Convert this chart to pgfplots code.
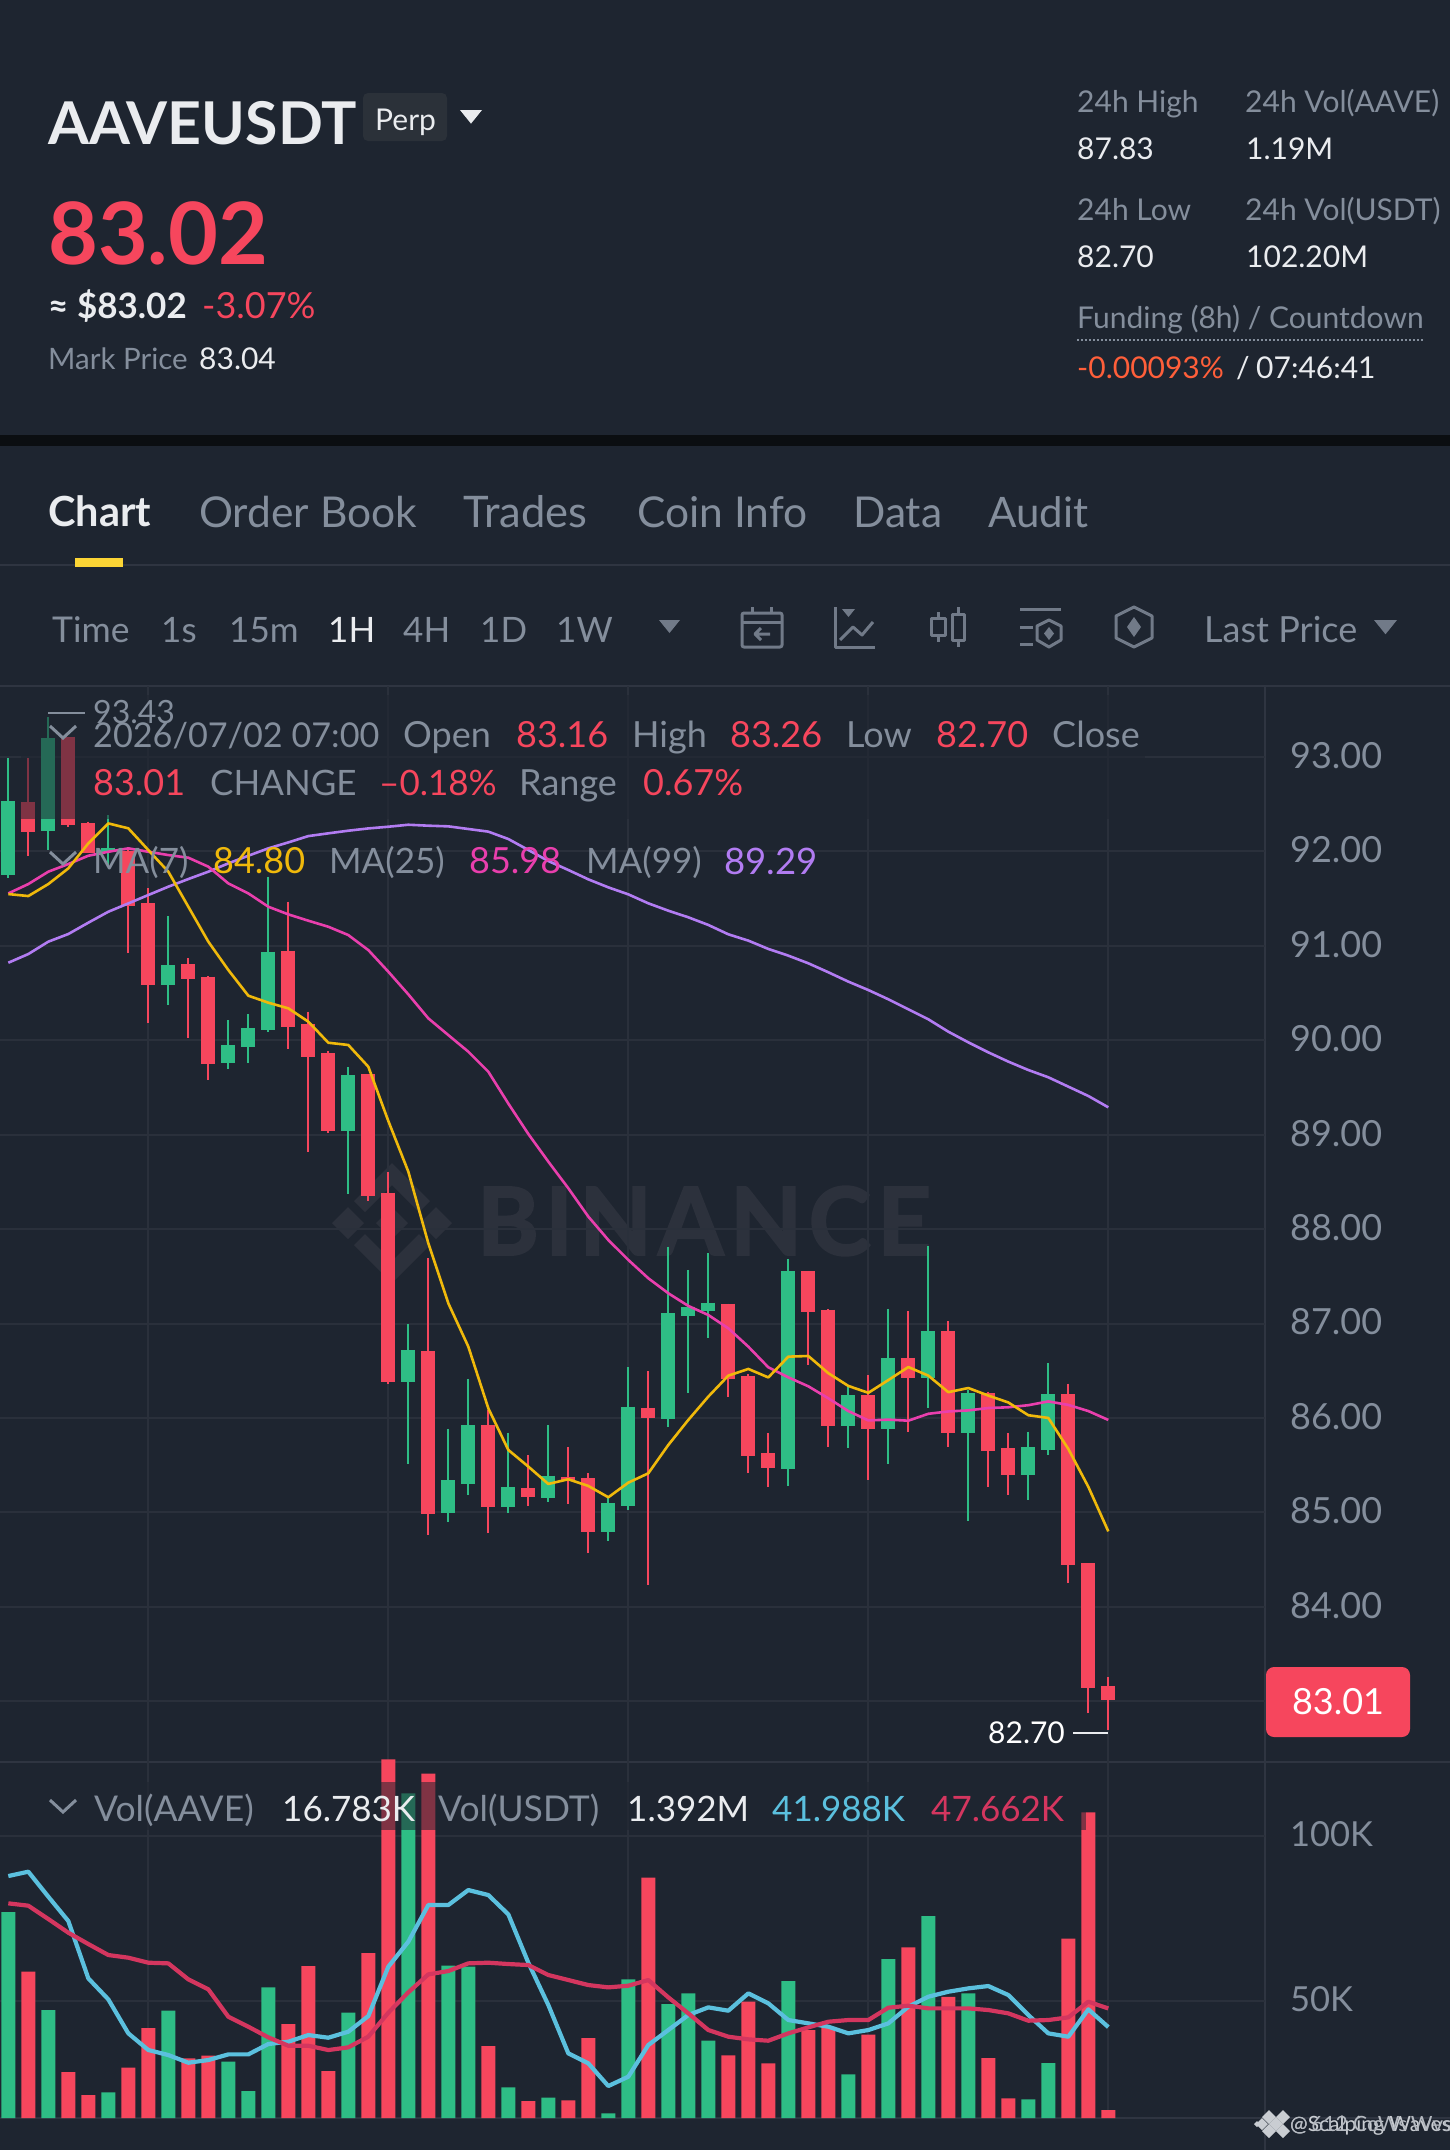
\documentclass[border=0pt]{standalone}
\usepackage{pgfplots}
\usepackage{pgfplotstable}
\usepackage{fontspec}
\setmainfont{Lato}
\pgfplotsset{compat=1.18}
\definecolor{bg}{HTML}{1E2530}
\definecolor{grid}{HTML}{2A303B}
\definecolor{sep}{HTML}{2F3541}
\definecolor{up}{HTML}{2EBD85}
\definecolor{dn}{HTML}{F6465D}
\definecolor{gr}{HTML}{848E9C}
\definecolor{wt}{HTML}{EAECEF}
\definecolor{maa}{HTML}{F0B90B}
\definecolor{mab}{HTML}{E93FAD}
\definecolor{mac}{HTML}{B27CF2}
\definecolor{vb}{HTML}{5BC0DE}
\definecolor{vr}{HTML}{D4365F}
\definecolor{wm}{HTML}{2C313C}
\definecolor{ic}{HTML}{717A88}
\definecolor{yel}{HTML}{FCD535}
\definecolor{chip}{HTML}{2B3139}
\definecolor{fund}{HTML}{FF5F3A}
\definecolor{wml}{HTML}{C9CDD2}
\definecolor{wmd}{HTML}{B4B9C0}
\definecolor{band}{HTML}{0B0E11}
% i high bodytop bodybottom low
\pgfplotstableread{
i hi top bot lo
0 92.985 92.536 91.749 91.714
2 93.426 93.196 92.219 92.014
5 92.385 92.039 91.996 91.855
8 91.315 90.796 90.581 90.373
11 90.214 89.950 89.755 89.695
12 90.274 90.130 89.932 89.755
13 91.732 90.938 90.108 90.091
17 89.713 89.628 89.039 88.370
20 86.996 86.721 86.379 85.514
22 85.885 85.341 84.992 84.903
23 86.414 85.923 85.299 85.186
25 85.846 85.270 85.059 84.999
27 85.923 85.390 85.150 85.115
30 85.150 85.101 84.797 84.702
31 86.537 86.121 85.069 85.027
33 87.815 87.109 85.990 85.906
34 87.568 87.180 87.081 86.262
35 87.744 87.222 87.130 86.851
39 87.685 87.557 85.465 85.279
42 86.329 86.241 85.921 85.687
44 87.156 86.639 85.880 85.516
46 87.824 86.923 86.427 86.107
48 86.292 86.263 85.840 84.907
51 85.855 85.691 85.392 85.137
52 86.584 86.252 85.658 85.607
}\upt
\pgfplotstableread{
i hi top bot lo
1 92.985 92.526 92.208 91.954
3 93.214 93.214 92.279 92.261
4 92.314 92.296 91.986 91.979
6 92.030 92.007 91.421 90.927
7 91.608 91.449 90.581 90.186
9 90.867 90.807 90.652 90.027
10 90.680 90.673 89.748 89.579
14 91.467 90.948 90.140 89.904
15 90.302 90.168 89.819 88.813
16 89.886 89.861 89.039 89.014
18 89.640 89.640 88.351 88.300
19 88.609 88.387 86.379 86.357
21 87.691 86.710 84.981 84.762
24 86.086 85.930 85.059 84.787
26 85.606 85.260 85.161 85.073
28 85.694 85.380 85.345 85.094
29 85.415 85.362 84.797 84.575
32 86.495 86.110 86.001 84.236
36 87.211 87.211 86.410 86.223
37 86.467 86.449 85.602 85.415
38 85.844 85.625 85.472 85.272
40 87.557 87.557 87.120 86.566
41 87.153 87.149 85.921 85.698
43 86.457 86.241 85.880 85.348
45 87.135 86.639 86.420 85.855
47 87.025 86.923 85.840 85.698
49 86.281 86.263 85.647 85.268
50 85.837 85.680 85.399 85.180
53 86.365 86.252 84.440 84.258
54 84.462 84.462 83.139 82.873
55 83.260 83.160 83.010 82.700
}\dnt
\pgfplotstableread{
i ma7 ma25 ma99
0 91.548 91.555 90.821
1 91.527 91.654 90.913
2 91.654 91.785 91.044
3 91.820 91.866 91.125
4 92.085 91.954 91.245
5 92.296 91.996 91.361
6 92.244 92.032 91.449
7 92.014 91.996 91.538
8 91.785 91.961 91.626
9 91.414 91.933 91.707
10 91.044 91.838 91.785
11 90.744 91.661 91.873
12 90.472 91.555 91.954
13 90.398 91.414 92.032
14 90.338 91.333 92.095
15 90.197 91.266 92.162
16 89.974 91.202 92.191
17 89.950 91.114 92.219
18 89.720 90.955 92.243
19 89.145 90.726 92.261
20 88.609 90.486 92.282
21 87.850 90.232 92.272
22 87.215 90.055 92.265
23 86.756 89.879 92.237
24 86.103 89.667 92.209
25 85.662 89.330 92.131
26 85.486 89.008 92.015
27 85.302 88.715 91.898
28 85.352 88.433 91.803
29 85.281 88.133 91.704
30 85.161 87.885 91.619
31 85.316 87.674 91.545
32 85.415 87.480 91.450
33 85.715 87.321 91.372
34 85.980 87.187 91.302
35 86.227 87.091 91.221
36 86.449 86.950 91.122
37 86.520 86.756 91.055
38 86.430 86.537 90.967
39 86.650 86.431 90.896
40 86.657 86.336 90.815
41 86.475 86.209 90.720
42 86.340 86.074 90.621
43 86.267 85.975 90.532
44 86.402 85.983 90.434
45 86.540 85.972 90.328
46 86.449 86.045 90.222
47 86.274 86.070 90.091
48 86.318 86.081 89.978
49 86.238 86.106 89.872
50 86.165 86.114 89.774
51 86.030 86.136 89.685
52 86.001 86.176 89.608
53 85.673 86.139 89.509
54 85.272 86.074 89.410
55 84.800 85.980 89.290
}\mat
\pgfplotstableread{
i v
0 76.93
2 47.18
5 22.18
8 46.97
11 31.49
12 22.59
13 54.06
17 46.37
20 112.95
22 60.63
23 60.33
25 23.70
27 20.56
30 15.81
31 56.49
33 49.00
34 52.24
35 37.87
39 55.98
42 27.65
44 62.66
46 75.71
48 52.24
51 20.06
52 31.09
}\vup
\pgfplotstableread{
i v
1 58.81
3 28.35
4 21.37
6 29.67
7 41.71
9 32.50
10 33.31
14 42.93
15 60.53
16 28.66
18 64.48
19 123.27
21 118.92
24 36.25
26 19.55
28 19.75
29 38.68
32 87.35
36 33.41
37 49.70
38 30.98
40 41.10
41 42.10
43 39.69
45 66.20
47 51.20
49 32.60
50 20.36
53 68.83
54 107.18
55 16.78
}\vdn
\pgfplotstableread{
i b r
0 87.85 79.56
1 89.17 78.85
2 81.58 74.80
3 74.19 70.65
4 56.79 67.21
5 50.41 63.87
6 40.09 63.06
7 35.03 61.54
8 33.51 61.34
9 31.18 56.48
10 31.99 53.45
11 33.71 45.15
12 33.71 42.11
13 36.85 38.88
14 37.56 36.34
15 39.58 36.34
16 38.77 35.03
17 40.60 35.84
18 45.35 39.08
19 60.33 46.36
20 67.92 52.54
21 79.05 58.00
22 79.05 59.01
23 83.60 61.34
24 82.08 61.54
25 76.22 61.14
26 61.54 60.83
27 48.69 57.80
28 34.02 56.28
29 30.98 54.76
30 24.10 54.05
31 26.94 54.56
32 36.55 56.28
33 41.10 51.02
34 45.66 46.16
35 47.98 41.10
36 46.97 39.08
37 52.23 38.27
38 49.20 37.86
39 44.14 40.09
40 43.13 41.91
41 42.11 43.63
42 40.09 44.14
43 41.10 44.14
44 43.13 47.88
45 48.18 48.49
46 51.22 47.68
47 52.74 47.68
48 53.75 47.68
49 54.46 47.17
50 51.73 46.16
51 45.66 43.94
52 40.09 44.14
53 39.08 44.95
54 47.38 49.70
55 41.99 47.66
}\vma
\newcommand{\T}[5]{\node[anchor=base west,inner sep=0pt,text=#3,font=\fontsize{#4}{#4}\selectfont,yshift={-0.36*#4pt}] at (#1,#2) {#5};}
\newcommand{\Tri}[4]{\fill[#4] (#1,#2) -- (#1+#3,#2) -- (#1+#3/2,#2+#3*0.62) -- cycle;}
\pgfplotsset{pane/.style={scale only axis,width=1265pt,xmin=-0.4165,xmax=62.8335,
 xtick={7,19,31,43,55},xticklabels={},
 axis line style={draw=none},major tick length=0pt,
 grid=major,grid style={color=grid,line width=2pt},
 yticklabel pos=right,
 clip=true},
 wick/.style={draw=none,mark=none,forget plot,error bars/.cd,y dir=minus,y explicit,error mark=none,error bar style={draw=#1,line width=2pt}},
 body/.style={draw=none,mark=none,forget plot,error bars/.cd,y dir=minus,y explicit,error mark=none,error bar style={draw=#1,line width=14pt}}}
\begin{document}
\begin{tikzpicture}
\path[use as bounding box] (0,0) rectangle (1450pt,-2150pt);
\begin{scope}[x=1pt,y=-1pt]
\fill[bg] (0,0) rectangle (1450,2150);
\fill[band] (0,435) rectangle (1450,446);
\draw[sep,line width=2.5pt] (0,565) -- (1450,565);
\draw[sep,line width=2.5pt] (0,686) -- (1450,686);
\draw[sep,line width=2.5pt] (0,1762) -- (1450,1762);
\draw[sep,line width=2.5pt] (0,2118) -- (1450,2118);
\draw[sep,line width=2pt] (1265,686) -- (1265,2150);
\fill[yel] (75,558) rectangle (123,567);
% watermark
\begin{scope}[shift={(392,1223)}]
\fill[wm] (0,-16)--(16,0)--(0,16)--(-16,0)--cycle;
\fill[wm] (44,-16)--(60,0)--(44,16)--(28,0)--cycle;
\fill[wm] (-44,-16)--(-60,0)--(-44,16)--(-28,0)--cycle;
\fill[wm] (0,-60)--(38,-22)--(27,-11)--(0,-38)--(-27,-11)--(-38,-22)--cycle;
\fill[wm] (0,60)--(38,22)--(27,11)--(0,38)--(-27,11)--(-38,22)--cycle;
\end{scope}
\node[inner sep=0pt,text=wm,font=\fontsize{94}{94}\selectfont\bfseries\addfontfeatures{LetterSpace=6.7,FakeBold=2}] at (704,1221) {BINANCE};
\end{scope}
% price pane
\begin{axis}[pane,at={(0pt,-686pt)},anchor=north west,height=1076pt,
 ymin=82.358,ymax=93.751,ytick={83,84,...,93},
 y tick label style={anchor=west,inner sep=0pt,xshift=25pt,yshift=1.5pt,text=gr,font=\fontsize{36}{36}\selectfont},
 /pgf/number format/.cd,fixed,fixed zerofill,precision=2,assume math mode=true]
\addplot[wick=up] table[x=i,y=hi,y error minus expr=\thisrow{hi}-\thisrow{lo}] {\upt};
\addplot[body=up] table[x=i,y=top,y error minus expr=\thisrow{top}-\thisrow{bot}] {\upt};
\addplot[wick=dn] table[x=i,y=hi,y error minus expr=\thisrow{hi}-\thisrow{lo}] {\dnt};
\addplot[body=dn] table[x=i,y=top,y error minus expr=\thisrow{top}-\thisrow{bot}] {\dnt};
\addplot[mac,line width=2.6pt,line join=round] table[x=i,y=ma99] {\mat};
\addplot[mab,line width=2.6pt,line join=round] table[x=i,y=ma25] {\mat};
\addplot[maa,line width=2.6pt,line join=round] table[x=i,y=ma7] {\mat};
\end{axis}
% volume pane
\begin{axis}[pane,at={(0pt,-1758pt)},anchor=north west,height=360pt,
 ymin=14.39,ymax=123.68,ytick={50,100},yticklabels={50K,100K},
 y tick label style={anchor=west,inner sep=0pt,xshift=25pt,yshift=1.5pt,text=gr,font=\fontsize{34.5}{34.5}\selectfont}]
\addplot[ybar,bar shift=0pt,bar width=14pt,fill=up,draw=none] table[x=i,y=v] {\vup};
\addplot[ybar,bar shift=0pt,bar width=14pt,fill=dn,draw=none] table[x=i,y=v] {\vdn};
\addplot[vb,line width=4.2pt,line join=round] table[x=i,y=b] {\vma};
\addplot[vr,line width=4.2pt,line join=round] table[x=i,y=r] {\vma};
\end{axis}
\begin{scope}[x=1pt,y=-1pt]
% dim overlays
\fill[bg,opacity=0.55] (21,695) rectangle (1145,819);
\fill[bg,opacity=0.55] (40,1782) rectangle (1086,1830);
% header
\node[anchor=base west,inner sep=0pt,text=wt,font=\fontsize{59}{59}\selectfont\bfseries] at (48,144) {AAVEUSDT};
\fill[chip,rounded corners=5pt] (363,93) rectangle (447,141);
\T{375}{120}{wt}{30}{Perp}
\Tri{460}{110}{22}{wt}
\node[anchor=base west,inner sep=0pt,text=dn,font=\fontsize{86}{86}\selectfont\bfseries] at (48,264) {83.02};
\T{48}{306}{wt}{35}{\bfseries ≈ \$83.02}
\T{202}{306}{dn}{36}{-3.07\%}
\T{48}{359}{gr}{29.5}{Mark Price}
\T{199}{359}{wt}{30}{83.04}
\T{1077}{102}{gr}{30}{24h High}
\T{1245}{102}{gr}{30}{24h Vol(AAVE)}
\T{1077}{149}{wt}{30}{87.83}
\T{1246}{149}{wt}{30}{1.19M}
\T{1077}{210}{gr}{30}{24h Low}
\T{1245}{210}{gr}{30}{24h Vol(USDT)}
\T{1077}{257}{wt}{30}{82.70}
\T{1246}{257}{wt}{30}{102.20M}
\T{1077}{318}{gr}{30}{Funding (8h) / Countdown}
\draw[gr,line width=2pt,dash pattern=on 2pt off 2pt] (1077,340) -- (1423,340);
\T{1077}{368}{fund}{30}{-0.00093\%}
\T{1236}{368}{wt}{30}{/}
\T{1256}{368}{wt}{30}{07:46:41}
% tabs
\T{48}{512}{wt}{41.5}{\bfseries Chart}
\T{199}{512}{gr}{42.5}{Order Book}
\T{463}{512}{gr}{43.5}{Trades}
\T{637}{512}{gr}{42.5}{Coin Info}
\T{853}{512}{gr}{42.5}{Data}
\T{988}{512}{gr}{42}{Audit}
% toolbar
\T{52}{630}{gr}{35.5}{Time}
\T{161}{630}{gr}{35}{1s}
\T{229}{630}{gr}{35}{15m}
\T{328}{630}{wt}{35}{1H}
\T{403}{630}{gr}{35}{4H}
\T{480}{630}{gr}{35}{1D}
\T{556}{630}{gr}{35}{1W}
\Tri{659}{620}{21}{ic}
\T{1204}{630}{gr}{36}{Last Price}
\Tri{1374}{620}{23}{ic}
\begin{scope}[draw=ic,fill=ic,line width=3pt,line join=round]
\draw[rounded corners=2pt] (742,613) rectangle (782,647);
\draw (742,622)--(782,622) (752,607)--(752,613) (771,607)--(771,613);
\draw (770,634)--(755,634) (761,628)--(755,634)--(761,640);
\draw (835.5,607)--(835.5,647)--(875,647);
\draw (840,640)--(853,627)--(862,635)--(873,622);
\fill (842,609)--(855,609)--(848.5,617)--cycle;
\draw (931,618) rectangle (945,635) (938,612)--(938,618) (938,635)--(938,642);
\draw (952,614) rectangle (964,640) (958,607)--(958,614) (958,640)--(958,647);
\draw (1020,609)--(1061,609) (1020,627)--(1033,627) (1020,644)--(1033,644);
\draw (1049,620)--(1061,626)--(1061,640)--(1049,647)--(1037,640)--(1037,626)--cycle;
\fill (1049,627)--(1054,633.5)--(1049,640)--(1044,633.5)--cycle;
\draw (1134,607)--(1152,616)--(1152,638)--(1134,647)--(1116,638)--(1116,616)--cycle;
\fill (1134,617)--(1141,627)--(1134,637)--(1127,627)--cycle;
\end{scope}
% chart info
\draw[gr,line width=2.5pt] (48,713)--(85,713);
\T{93}{712}{gr}{32}{93.43}
\draw[gr,line width=3pt] (50,726)--(63,738)--(76,726);
\draw[gr,line width=3pt] (50,852)--(63,864)--(76,852);
\T{93}{735}{gr}{34.2}{2026/07/02 07:00}
\T{403}{735}{gr}{36}{Open}
\T{516}{735}{dn}{36}{83.16}
\T{632}{735}{gr}{36}{High}
\T{730}{735}{dn}{36}{83.26}
\T{846}{735}{gr}{36}{Low}
\T{936}{735}{dn}{36}{82.70}
\T{1052}{735}{gr}{36}{Close}
\T{93}{783}{dn}{36}{83.01}
\T{210}{783}{gr}{35}{CHANGE}
\T{379}{783}{dn}{35}{–0.18\%}
\T{519}{783}{gr}{36}{Range}
\T{643}{783}{dn}{36}{0.67\%}
\T{93}{861}{gr}{35}{MA(7)}
\T{213}{861}{maa}{36}{84.80}
\T{329}{861}{gr}{35}{MA(25)}
\T{469}{861}{mab}{36}{85.98}
\T{586}{861}{gr}{35}{MA(99)}
\T{724}{861}{mac}{36.5}{89.29}
\draw[gr,line width=3pt] (50,1800)--(63,1812)--(76,1800);
\T{94}{1809}{gr}{35.5}{Vol(AAVE)}
\T{282}{1809}{wt}{35}{16.783K}
\T{438}{1809}{gr}{35.5}{Vol(USDT)}
\T{627}{1809}{wt}{35}{1.392M}
\T{772}{1809}{vb}{35}{41.988K}
\T{931}{1809}{vr}{35}{47.662K}
% price tags
\fill[dn,rounded corners=8pt] (1266,1667) rectangle (1410,1737);
\node[inner sep=0pt,text=white,font=\fontsize{36}{36}\selectfont] at (1338,1702) {83.01};
\T{988}{1733}{white}{30}{82.70}
\draw[wt,line width=2.5pt] (1073,1733)--(1108,1733);
% footer watermark
\foreach \x/\y/\r in {1257/2124/3,1269/2117/7,1269/2131/7,1283/2117/7,1283/2131/7,1276/2124/7,1262/2124/6}
 {\fill[wml] (\x,\y-\r)--(\x+\r,\y)--(\x,\y+\r)--(\x-\r,\y)--cycle;}
\T{1290}{2124}{wml}{21}{@Scalping Waves}
\T{1290}{2124}{wmd}{21}{@\,612 CoWs\,Wvs}
\end{scope}
\end{tikzpicture}
\end{document}
